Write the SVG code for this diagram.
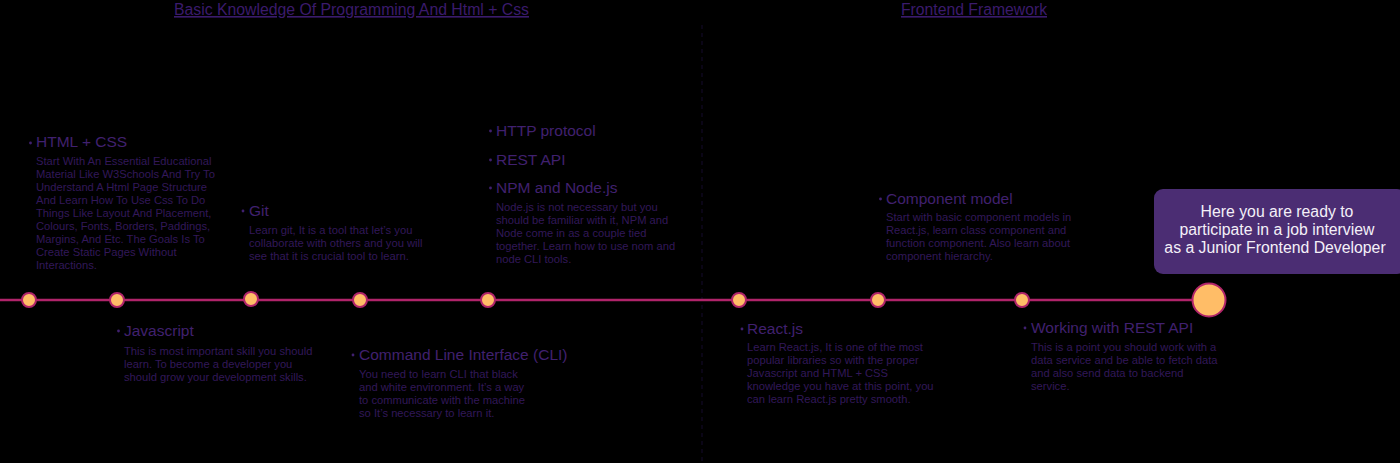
<svg xmlns="http://www.w3.org/2000/svg" width="1400" height="463" viewBox="0 0 1400 463">
<style>
text{font-family:"Liberation Sans",Arial,sans-serif}
.hdr{font-size:16px;fill:#3b1b6c;text-decoration:underline}
.ttl{font-size:15.5px;fill:#40206f}
.body{font-size:11.2px;fill:#321859}
.dot{fill:#40206f}
.pt{fill:#ffbd67;stroke:#b0246a;stroke-width:2}
.fin{font-size:15.8px;fill:#f4f0f8;text-anchor:middle}
</style>
<rect width="1400" height="463" fill="#000"/>
<g id="headers">
<text class="hdr" x="174" y="15" textLength="355" lengthAdjust="spacingAndGlyphs">Basic Knowledge Of Programming And Html + Css</text>
<text class="hdr" x="901" y="15" textLength="146" lengthAdjust="spacingAndGlyphs">Frontend Framework</text>
</g>
<g id="connectors">
<line x1="702" y1="25" x2="702" y2="463" stroke="#140a2c" stroke-width="1" stroke-dasharray="4 4"/>
<line x1="0" y1="300" x2="1196" y2="300" stroke="#b0246a" stroke-width="2.5"/>
</g>
<g id="points">
<circle class="pt" cx="29" cy="300" r="7"/>
<circle class="pt" cx="117" cy="300" r="7"/>
<circle class="pt" cx="251" cy="299" r="7"/>
<circle class="pt" cx="360" cy="300" r="7"/>
<circle class="pt" cx="488" cy="300" r="7"/>
<circle class="pt" cx="739" cy="300" r="7"/>
<circle class="pt" cx="878" cy="300" r="7"/>
<circle class="pt" cx="1022" cy="300" r="7"/>
<circle class="pt" cx="1209" cy="300" r="16.5"/>
</g>
<g id="html-css">
<circle class="dot" cx="30.5" cy="143" r="1.4"/>
<text class="ttl" x="36" y="147">HTML + CSS</text>
<text class="body" x="36" y="165">Start With An Essential Educational</text>
<text class="body" x="36" y="178">Material Like W3Schools And Try To</text>
<text class="body" x="36" y="191">Understand A Html Page Structure</text>
<text class="body" x="36" y="204">And Learn How To Use Css To Do</text>
<text class="body" x="36" y="217">Things Like Layout And Placement,</text>
<text class="body" x="36" y="230">Colours, Fonts, Borders, Paddings,</text>
<text class="body" x="36" y="243">Margins, And Etc. The Goals Is To</text>
<text class="body" x="36" y="256">Create Static Pages Without</text>
<text class="body" x="36" y="269">Interactions.</text>
</g>
<g id="javascript">
<circle class="dot" cx="118.5" cy="331" r="1.4"/>
<text class="ttl" x="124" y="336">Javascript</text>
<text class="body" x="124" y="355">This is most important skill you should</text>
<text class="body" x="124" y="368">learn. To become a developer you</text>
<text class="body" x="124" y="381">should grow your development skills.</text>
</g>
<g id="git">
<circle class="dot" cx="243" cy="211" r="1.4"/>
<text class="ttl" x="249" y="216">Git</text>
<text class="body" x="249" y="234">Learn git, It is a tool that let’s you</text>
<text class="body" x="249" y="247">collaborate with others and you will</text>
<text class="body" x="249" y="260">see that it is crucial tool to learn.</text>
</g>
<g id="cli">
<circle class="dot" cx="353" cy="355" r="1.4"/>
<text class="ttl" x="359" y="360">Command Line Interface (CLI)</text>
<text class="body" x="359" y="378">You need to learn CLI that black</text>
<text class="body" x="359" y="391">and white environment. It’s a way</text>
<text class="body" x="359" y="404">to communicate with the machine</text>
<text class="body" x="359" y="417">so It’s necessary to learn it.</text>
</g>
<g id="http-rest-npm">
<circle class="dot" cx="490.5" cy="131" r="1.4"/>
<text class="ttl" x="496" y="136">HTTP protocol</text>
<circle class="dot" cx="490.5" cy="160" r="1.4"/>
<text class="ttl" x="496" y="165">REST API</text>
<circle class="dot" cx="490.5" cy="188" r="1.4"/>
<text class="ttl" x="496" y="193">NPM and Node.js</text>
<text class="body" x="496" y="211">Node.js is not necessary but you</text>
<text class="body" x="496" y="224">should be familiar with it, NPM and</text>
<text class="body" x="496" y="237">Node come in as a couple tied</text>
<text class="body" x="496" y="250">together. Learn how to use nom and</text>
<text class="body" x="496" y="263">node CLI tools.</text>
</g>
<g id="reactjs">
<circle class="dot" cx="742" cy="329" r="1.4"/>
<text class="ttl" x="747" y="334">React.js</text>
<text class="body" x="747" y="351">Learn React.js, It is one of the most</text>
<text class="body" x="747" y="364">popular libraries so with the proper</text>
<text class="body" x="747" y="377">Javascript and HTML + CSS</text>
<text class="body" x="747" y="390">knowledge you have at this point, you</text>
<text class="body" x="747" y="403">can learn React.js pretty smooth.</text>
</g>
<g id="component-model">
<circle class="dot" cx="880.5" cy="199" r="1.4"/>
<text class="ttl" x="886" y="204">Component model</text>
<text class="body" x="886" y="221">Start with basic component models in</text>
<text class="body" x="886" y="234">React.js, learn class component and</text>
<text class="body" x="886" y="247">function component. Also learn about</text>
<text class="body" x="886" y="260">component hierarchy.</text>
</g>
<g id="rest-api">
<circle class="dot" cx="1025" cy="328" r="1.4"/>
<text class="ttl" x="1031" y="333">Working with REST API</text>
<text class="body" x="1031" y="351">This is a point you should work with a</text>
<text class="body" x="1031" y="364">data service and be able to fetch data</text>
<text class="body" x="1031" y="377">and also send data to backend</text>
<text class="body" x="1031" y="390">service.</text>
</g>
<g id="final">
<rect x="1154" y="189" width="252" height="85" rx="9" fill="#4b2d73"/>
<text class="fin" x="1277" y="217">Here you are ready to</text>
<text class="fin" x="1277" y="235">participate in a job interview</text>
<text class="fin" x="1275" y="253">as a Junior Frontend Developer</text>
</g>
</svg>
